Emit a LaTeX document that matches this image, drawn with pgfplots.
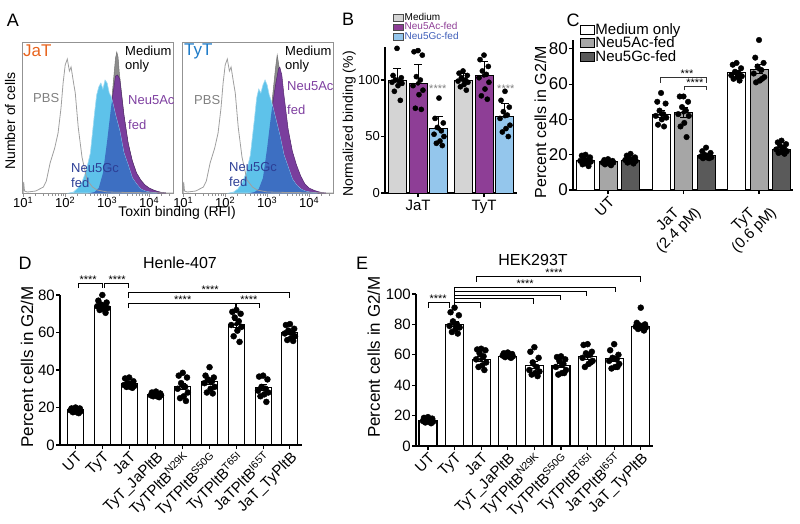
\documentclass[border=0pt]{standalone}
\usepackage{fontspec}
\setmainfont{Liberation Sans}
\usepackage{pgfplots}
\pgfplotsset{compat=1.18}
\newcommand{\fs}[1]{\fontsize{#1}{#1}\selectfont}
\definecolor{hgray}{HTML}{8C8C8C}
\definecolor{hpurple}{HTML}{7A3E9D}
\definecolor{hcyan}{HTML}{5EC2EA}
\definecolor{hblue}{HTML}{3D6FC2}
\definecolor{jaorange}{HTML}{E8641E}
\definecolor{tyblue}{HTML}{1E7BC8}
\definecolor{txtpurple}{HTML}{7E3FA0}
\definecolor{txtblue}{HTML}{2D3F96}
\definecolor{bgray}{HTML}{D4D4D4}
\definecolor{bpurple}{HTML}{8E3E96}
\definecolor{bblue}{HTML}{94C6EC}
\definecolor{cgray}{HTML}{A6A6A6}
\definecolor{cdark}{HTML}{5A5A5A}
\definecolor{legblue}{HTML}{3E5DB8}
\pgfplotsset{
  histA/.style={scale only axis, anchor=south west, width=151pt, height=151pt,
    xmin=0.97, xmax=4.57, ymin=0, ymax=151,
    axis line style={draw=gray!85, line width=0.9pt},
    xtick={1,2,3,4},
    xticklabels={10\textsuperscript{1},10\textsuperscript{2},10\textsuperscript{3},10\textsuperscript{4}},
    minor xtick={1.301,1.477,1.602,1.699,1.778,1.845,1.903,1.954,2.301,2.477,2.602,2.699,2.778,2.845,2.903,2.954,3.301,3.477,3.602,3.699,3.778,3.845,3.903,3.954,4.301,4.477},
    xtick pos=left, tick align=outside, ytick=\empty,
    tick style={draw=gray!85, line width=0.8pt},
    major tick length=3.5pt, minor tick length=2.5pt,
    xticklabel style={font=\fs{13}, inner sep=0.5pt}},
  barpanel/.style={scale only axis, anchor=south west, axis lines*=left,
    axis line style={line width=1.1pt}, tick style={line width=1.1pt, black},
    tick align=outside, major tick length=4pt, ymin=0, clip=false,
    /pgf/number format/assume math mode=true},
  dots/.style={only marks, mark=*, mark size=#1, black},
  ebar/.style={black, only marks, mark=none, error bars/y dir=both, error bars/y explicit,
    error bars/error bar style={line width=1pt, black},
    error bars/error mark options={rotate=90, mark size=#1, line width=1pt, black}},
}
\begin{document}
\begin{tikzpicture}
\path[use as bounding box] (0pt,0pt) rectangle (800pt,-523pt);

% ================= Panel A (JaT) =================
\begin{axis}[histA, at={(22pt,-193pt)}]
\addplot[fill=hgray, draw=black!55, line width=0.5pt] coordinates {(2.7,0)(2.8,4)(2.9,18)(3.0,50)(3.1,88)(3.15,112)(3.2,135)(3.23,141)(3.26,136)(3.29,120)(3.33,105)(3.4,78)(3.5,50)(3.6,32)(3.7,20)(3.8,13)(3.9,8)(4.0,5)(4.1,3)(4.2,1.5)(4.3,0.5)(4.4,0)} \closedcycle;
\addplot[fill=hpurple, draw=hpurple!70!black, line width=0.5pt] coordinates {(2.6,0)(2.7,1)(2.8,5)(2.9,20)(3.0,52)(3.1,88)(3.2,117)(3.25,118)(3.3,114)(3.4,78)(3.5,50)(3.6,32)(3.7,20)(3.8,13)(3.9,8)(4.0,5)(4.1,3)(4.2,1.5)(4.3,0.5)(4.4,0)} \closedcycle;
\addplot[fill=hcyan, draw=hcyan!60!white, line width=0.6pt] coordinates {(2.1,0)(2.2,1)(2.3,5)(2.4,11)(2.5,22)(2.6,40)(2.7,80)(2.75,98)(2.8,106)(2.85,110)(2.9,104)(2.95,113)(3.0,110)(3.05,100)(3.1,96)(3.2,78)(3.3,62)(3.4,40)(3.5,28)(3.6,15)(3.7,9)(3.8,4)(3.9,2)(4.0,1)(4.1,0.5)(4.2,0)} \closedcycle;
\addplot[fill=hblue, draw=none] coordinates {(2.6,0)(2.7,1)(2.8,5)(2.9,20)(3.0,52)(3.1,88)(3.12,92.5)(3.2,78)(3.25,70)(3.3,62)(3.4,40)(3.5,28)(3.6,15)(3.7,9)(3.8,4)(3.9,2)(4.0,1)(4.1,0.5)(4.2,0)} \closedcycle;
\addplot[draw=gray!75, line width=0.8pt] coordinates {(0.97,0)(1.0,0)(1.01,11)(1.03,2)(1.1,1)(1.3,2)(1.48,6)(1.55,12)(1.64,30)(1.75,45)(1.83,60)(1.9,85)(1.95,110)(2.0,128)(2.05,134)(2.1,122)(2.14,126)(2.2,110)(2.24,100)(2.31,66)(2.4,36)(2.52,13)(2.65,6)(2.76,3)(3.0,1)(3.5,0.5)(4.57,0)};
\end{axis}

% ================= Panel A (TyT) =================
\begin{axis}[histA, at={(182pt,-193pt)}]
\addplot[fill=hgray, draw=black!55, line width=0.5pt] coordinates {(2.7,0)(2.8,4)(2.9,16)(3.0,47)(3.1,84)(3.15,105)(3.2,125)(3.24,138)(3.27,130)(3.3,120)(3.35,105)(3.4,90)(3.5,60)(3.6,40)(3.7,26)(3.8,16)(3.9,8)(4.0,4)(4.1,2)(4.2,1)(4.3,0)} \closedcycle;
\addplot[fill=hpurple, draw=hpurple!70!black, line width=0.5pt] coordinates {(2.6,0)(2.7,1)(2.8,4)(2.9,15)(3.0,45)(3.1,80)(3.2,108)(3.27,124)(3.3,126)(3.35,118)(3.4,98)(3.5,64)(3.6,42)(3.7,28)(3.8,17)(3.9,9)(4.0,5)(4.1,3)(4.2,1.5)(4.3,0.5)(4.4,0)} \closedcycle;
\addplot[fill=hcyan, draw=hcyan!60!white, line width=0.6pt] coordinates {(2.1,0)(2.2,1)(2.3,4)(2.4,10)(2.5,20)(2.6,38)(2.7,75)(2.75,95)(2.8,104)(2.85,100)(2.9,108)(2.95,113)(3.0,108)(3.05,98)(3.1,92)(3.2,75)(3.3,58)(3.4,38)(3.5,26)(3.6,14)(3.7,8)(3.8,4)(3.9,2)(4.0,1)(4.1,0.5)(4.2,0)} \closedcycle;
\addplot[fill=hblue, draw=none] coordinates {(2.6,0)(2.7,1)(2.8,4)(2.9,15)(3.0,45)(3.1,80)(3.127,87.5)(3.2,75)(3.3,58)(3.4,38)(3.5,26)(3.6,14)(3.7,8)(3.8,4)(3.9,2)(4.0,1)(4.1,0.5)(4.2,0)} \closedcycle;
\addplot[draw=gray!75, line width=0.8pt] coordinates {(0.97,0)(1.0,0)(1.01,11)(1.03,2)(1.1,1)(1.3,2)(1.48,6)(1.55,12)(1.64,30)(1.75,45)(1.83,60)(1.9,85)(1.95,110)(2.0,128)(2.05,134)(2.1,122)(2.14,126)(2.2,110)(2.24,100)(2.31,66)(2.4,36)(2.52,13)(2.65,6)(2.76,3)(3.0,1)(3.5,0.5)(4.57,0)};
\end{axis}

% Panel A texts
\node[font=\fs{18}] at (13pt,-20pt) {A};
\node[font=\fs{14}, rotate=90] at (10pt,-121pt) {Number of cells};
\node[font=\fs{14}] at (177pt,-213pt) {Toxin binding (RFI)};
\node[font=\fs{17}, text=jaorange, anchor=west, inner sep=0pt] at (23pt,-51pt) {JaT};
\node[font=\fs{13}, anchor=west, inner sep=0pt] at (125pt,-51pt) {Medium};
\node[font=\fs{13}, anchor=west, inner sep=0pt] at (125pt,-66pt) {only};
\node[font=\fs{13}, text=gray, anchor=west, inner sep=0pt] at (33pt,-98pt) {PBS};
\node[font=\fs{13}, text=txtpurple, anchor=west, inner sep=0pt] at (128pt,-100pt) {Neu5Ac};
\node[font=\fs{13}, text=txtpurple, anchor=west, inner sep=0pt] at (128pt,-125pt) {fed};
\node[font=\fs{13}, text=txtblue, anchor=west, inner sep=0pt] at (71pt,-168pt) {Neu5Gc};
\node[font=\fs{13}, text=txtblue, anchor=west, inner sep=0pt] at (71pt,-183pt) {fed};
\node[font=\fs{17}, text=tyblue, anchor=west, inner sep=0pt] at (184pt,-51pt) {TyT};
\node[font=\fs{13}, anchor=west, inner sep=0pt] at (285pt,-51pt) {Medium};
\node[font=\fs{13}, anchor=west, inner sep=0pt] at (285pt,-66pt) {only};
\node[font=\fs{13}, text=gray, anchor=west, inner sep=0pt] at (194pt,-100pt) {PBS};
\node[font=\fs{13}, text=txtpurple, anchor=west, inner sep=0pt] at (287pt,-86pt) {Neu5Ac};
\node[font=\fs{13}, text=txtpurple, anchor=west, inner sep=0pt] at (287pt,-110pt) {fed};
\node[font=\fs{13}, text=txtblue, anchor=west, inner sep=0pt] at (229pt,-167pt) {Neu5Gc};
\node[font=\fs{13}, text=txtblue, anchor=west, inner sep=0pt] at (229pt,-182pt) {fed};

% ================= Panel B =================
\begin{axis}[barpanel, at={(385pt,-193pt)}, width=132pt, height=146pt,
  xmin=0.5, xmax=2.5, ymax=129.2, ytick={0,50,100}, xtick={1,2}, xticklabels={JaT,TyT},
  yticklabel style={font=\fs{13}, inner sep=1pt}, xticklabel style={font=\fs{15}},
  ylabel={Normalized binding (\%)}, ylabel style={font=\fs{14}, at={(axis description cs:-0.27,0.473)}, anchor=center},
  legend image code/.code={\draw[#1] (0pt,-3.3pt) rectangle (10pt,3.3pt);},
  legend style={at={(axis description cs:0.04,1.25)}, anchor=north west, draw=none, fill=none,
    font=\fs{10}, row sep=-0.5pt, nodes={inner sep=0.6pt}, legend cell align=left}]
\addlegendimage{fill=bgray, draw=black!70, line width=0.6pt}
\addlegendentry{Medium}
\addlegendimage{fill=bpurple, draw=black!70, line width=0.6pt}
\addlegendentry{\textcolor{bpurple}{Neu5Ac-fed}}
\addlegendimage{fill=bblue, draw=black!70, line width=0.6pt}
\addlegendentry{\textcolor{legblue}{Neu5Gc-fed}}
\addplot[ybar, bar shift=0pt, bar width=18pt, fill=bgray, draw=black, line width=1pt, forget plot] coordinates {(0.682,100)(1.682,100)};
\addplot[ybar, bar shift=0pt, bar width=18pt, fill=bpurple, draw=black, line width=1pt, forget plot] coordinates {(1,97)(2,104)};
\addplot[ybar, bar shift=0pt, bar width=18pt, fill=bblue, draw=black, line width=1pt, forget plot] coordinates {(1.318,57)(2.318,68)};
\addplot[dots=2.6pt, forget plot] coordinates {(0.682,128)(0.622,104)(0.747,102)(0.657,100)(0.717,99)(0.607,98)(0.757,97)(0.697,95)(0.642,90)(0.732,82)
(1,126)(0.94,125)(1.065,122)(0.975,103)(1.035,100)(0.925,95)(1.075,91)(1.015,87)(0.96,75)(1.05,74)
(1.318,84)(1.258,66)(1.383,62)(1.293,58)(1.353,55)(1.243,52)(1.393,50)(1.333,46)(1.278,44)(1.368,42)
(1.682,108)(1.622,106)(1.747,104)(1.657,102)(1.717,100)(1.607,99)(1.757,98)(1.697,96)(1.642,94)(1.732,91)
(2,122)(1.94,118)(2.065,112)(1.975,108)(2.035,105)(1.925,102)(2.075,98)(2.015,92)(1.96,86)(2.05,83)
(2.318,90)(2.258,82)(2.383,76)(2.293,72)(2.353,69)(2.243,66)(2.393,60)(2.333,57)(2.278,54)(2.368,50)};
\addplot[ebar=4pt, error bars/y dir=plus, forget plot] coordinates {(0.682,100)+-(0,10) (1,97)+-(0,17) (1.318,57)+-(0,11) (1.682,100)+-(0,6) (2,104)+-(0,12) (2.318,68)+-(0,11)};
\node[font=\fs{11}, text=gray] at (axis cs:1.3,92) {****};
\node[font=\fs{11}, text=gray] at (axis cs:2.33,92) {****};
\end{axis}
\node[font=\fs{18}] at (348pt,-19pt) {B};

% ================= Panel C =================
\begin{axis}[barpanel, at={(573pt,-190pt)}, width=220pt, height=150pt,
  xmin=0.536, xmax=3.45, ymax=85, ytick={0,20,40,60,80}, xtick={1,2,3},
  xticklabels={UT,{JaT\\(2.4 pM)},{TyT\\(0.6 pM)}},
  xticklabel style={font=\fs{15}, rotate=45, anchor=north east, align=center, inner sep=1pt},
  yticklabel style={font=\fs{17}, inner sep=1pt},
  ylabel={Percent cells in G2/M}, ylabel style={font=\fs{16}, at={(axis description cs:-0.148,0.453)}, anchor=center},
  legend image code/.code={\draw[#1] (0pt,-4.5pt) rectangle (14pt,4.5pt);},
  legend style={at={(axis description cs:0.018,1.127)}, anchor=north west, draw=none, fill=none,
    font=\fs{15}, row sep=0pt, nodes={inner sep=0.5pt}, legend cell align=left}]
\addlegendimage{fill=white, draw=black, line width=0.8pt}
\addlegendentry{Medium only}
\addlegendimage{fill=cgray, draw=black, line width=0.8pt}
\addlegendentry{Neu5Ac-fed}
\addlegendimage{fill=cdark, draw=black, line width=0.8pt}
\addlegendentry{Neu5Gc-fed}
\addplot[ybar, bar shift=0pt, bar width=18pt, fill=white, draw=black, line width=1pt, forget plot] coordinates {(0.702,17)(1.702,43)(2.702,66.5)};
\addplot[ybar, bar shift=0pt, bar width=18pt, fill=cgray, draw=black, line width=1pt, forget plot] coordinates {(1,16)(2,44)(3,68.5)};
\addplot[ybar, bar shift=0pt, bar width=18pt, fill=cdark, draw=black, line width=1pt, forget plot] coordinates {(1.298,17)(2.298,19.5)(3.298,23)};
\addplot[dots=2.8pt, forget plot] coordinates {(0.702,20)(0.652,19.5)(0.762,18.5)(0.682,17.5)(0.732,17)(0.632,16.5)(0.772,16)(0.712,15)(0.662,14.5)(0.742,13.5)
(1,17.5)(0.95,17)(1.06,16.5)(0.98,16)(1.03,16)(0.93,15.5)(1.07,15.5)(1.01,15)(0.96,14.5)(1.04,14)
(1.298,20.5)(1.248,19.5)(1.358,18.5)(1.278,18)(1.328,17.5)(1.228,17)(1.368,16.5)(1.308,16)(1.258,15.5)(1.338,15)
(1.702,55)(1.652,50)(1.762,49)(1.682,45)(1.732,43)(1.632,42)(1.772,41)(1.712,40)(1.662,37)(1.742,36)
(2,53)(1.95,53)(2.06,50)(1.98,47)(2.03,45)(1.93,43)(2.07,42)(2.01,38)(1.96,36)(2.04,30)
(2.298,24)(2.248,22)(2.358,21)(2.278,20)(2.328,19.5)(2.228,19)(2.368,18.5)(2.308,18.5)(2.258,18)(2.338,18)
(2.702,72)(2.652,71)(2.762,69)(2.682,67)(2.732,66)(2.632,65)(2.772,64.5)(2.712,64)(2.662,63)(2.742,62)
(3,85)(2.95,75)(3.06,72)(2.98,70)(3.03,68)(2.93,66)(3.07,64)(3.01,62)(2.96,61)(3.04,63)
(3.298,28)(3.248,27)(3.358,26)(3.278,25)(3.328,24)(3.228,23)(3.368,22)(3.308,21.5)(3.258,21)(3.338,20.5)};
\addplot[ebar=4pt, forget plot] coordinates {(0.702,17)+-(0,0.8) (1,16)+-(0,0.5) (1.298,17)+-(0,0.7) (1.702,43)+-(0,2) (2,44)+-(0,3) (2.298,19.5)+-(0,0.7) (2.702,66.5)+-(0,1) (3,68.5)+-(0,2.5) (3.298,23)+-(0,1)};
\draw[line width=0.8pt, black!80] (axis cs:1.698,60.8) -- (axis cs:1.698,63.6) -- (axis cs:2.307,63.6) -- (axis cs:2.307,60.8);
\draw[line width=0.8pt, black!80] (axis cs:2.007,56.5) -- (axis cs:2.007,58.7) -- (axis cs:2.307,58.7) -- (axis cs:2.307,56.5);
\node[font=\fs{11}] at (axis cs:2.046,65.8) {***};
\node[font=\fs{11}] at (axis cs:2.15,60.6) {****};
\end{axis}
\node[font=\fs{18}] at (573pt,-20pt) {C};

% ================= Panel D =================
\begin{axis}[barpanel, at={(60pt,-445pt)}, width=242pt, height=150pt,
  xmin=-0.58, xmax=8.45, ymax=80, ytick={0,20,40,60,80}, xtick={0,1,...,8},
  xticklabels={UT,TyT,JaT,TyT\_JaPltB,TyTPltB\textsuperscript{N29K},TyTPltB\textsuperscript{S50G},TyTPltB\textsuperscript{T65I},JaTPltB\textsuperscript{I65T},JaT\_TyPltB},
  xticklabel style={font=\fs{15}, rotate=45, anchor=north east, inner sep=1pt},
  yticklabel style={font=\fs{15}, inner sep=1pt},
  ylabel={Percent cells in G2/M}, ylabel style={font=\fs{17}, at={(axis description cs:-0.136,0.52)}, anchor=center}]
\addplot[ybar, bar shift=0pt, bar width=16pt, fill=white, draw=black, line width=1.1pt] coordinates {(0,18.7)(1,73.8)(2,32.9)(3,26.7)(4,31.1)(5,33.8)(6,64.5)(7,30.8)(8,59.9)};
\addplot[dots=3pt] coordinates {(0,20)(-0.15,19.5)(0.16,19.5)(-0.06,19)(0.09,18.5)(-0.19,18.5)(0.19,18)(0.04,17.5)(-0.1,17.5)(0.12,17)
(1,80)(0.85,77)(1.16,76)(0.94,75)(1.09,74.5)(0.81,74)(1.19,73)(1.04,72.5)(0.9,72)(1.12,70.5)
(2,36)(1.85,35.5)(2.16,34)(1.94,33)(2.09,32.5)(1.81,32)(2.19,31.5)(2.04,31)(1.9,31)(2.12,30.5)
(3,28.5)(2.85,28)(3.16,27.5)(2.94,27)(3.09,27)(2.81,26.5)(3.19,26.5)(3.04,26)(2.9,26)(3.12,25.5)
(4,38.5)(3.85,37)(4.16,36)(3.94,33)(4.09,31)(3.81,30)(4.19,28)(4.04,26)(3.9,25)(4.12,23.5)
(5,41.5)(4.85,37)(5.16,36)(4.94,35)(5.09,34)(4.81,33)(5.19,31)(5.04,30)(4.9,28)(5.12,27.5)
(6,72)(5.85,71)(6.16,70)(5.94,68)(6.09,66)(5.81,64)(6.19,63)(6.04,61)(5.9,58)(6.12,55)
(7,37)(6.85,36.5)(7.16,35)(6.94,31)(7.09,30)(6.81,29)(7.19,28)(7.04,27)(6.9,26)(7.12,23)
(8,64.5)(7.85,64)(8.16,62)(7.94,61)(8.09,60)(7.81,59.5)(8.19,58)(8.04,57)(7.9,56)(8.12,55.5)};
\addplot[ebar=3.5pt] coordinates {(0,18.7)+-(0,0.4) (1,73.8)+-(0,1) (2,32.9)+-(0,0.6) (3,26.7)+-(0,0.3) (4,31.1)+-(0,1.7) (5,33.8)+-(0,1.4) (6,64.5)+-(0,1.7) (7,30.8)+-(0,1.6) (8,59.9)+-(0,1)};
\draw[line width=0.9pt] (axis cs:0.09,83.7) -- (axis cs:0.09,86.4) -- (axis cs:0.99,86.4) -- (axis cs:0.99,83.7);
\draw[line width=0.9pt] (axis cs:1.06,83.7) -- (axis cs:1.06,86.4) -- (axis cs:1.96,86.4) -- (axis cs:1.96,83.7);
\draw[line width=0.9pt] (axis cs:1.96,78.4) -- (axis cs:1.96,81.1) -- (axis cs:8.0,81.1) -- (axis cs:8.0,78.4);
\draw[line width=0.9pt] (axis cs:1.96,73) -- (axis cs:1.96,75.7) -- (axis cs:5.95,75.7) -- (axis cs:5.95,73);
\draw[line width=0.9pt] (axis cs:6.02,73) -- (axis cs:6.02,75.7) -- (axis cs:6.88,75.7) -- (axis cs:6.88,73);
\node[font=\fs{11}] at (axis cs:0.47,88.3) {****};
\node[font=\fs{11}] at (axis cs:1.55,88.3) {****};
\node[font=\fs{11}] at (axis cs:5.02,83) {****};
\node[font=\fs{11}] at (axis cs:4.0,77.6) {****};
\node[font=\fs{11}] at (axis cs:6.47,77.6) {****};
\end{axis}
\node[font=\fs{18}] at (25pt,-263pt) {D};
\node[font=\fs{16}] at (180pt,-263pt) {Henle-407};

% ================= Panel E =================
\begin{axis}[barpanel, at={(416pt,-446pt)}, width=237pt, height=152pt,
  xmin=-0.45, xmax=8.46, ymax=100, ytick={0,20,40,60,80,100}, xtick={0,1,...,8},
  xticklabels={UT,TyT,JaT,TyT\_JaPltB,TyTPltB\textsuperscript{N29K},TyTPltB\textsuperscript{S50G},TyTPltB\textsuperscript{T65I},JaTPltB\textsuperscript{I65T},JaT\_TyPltB},
  xticklabel style={font=\fs{15}, rotate=45, anchor=north east, inner sep=1pt},
  yticklabel style={font=\fs{15}, inner sep=1pt},
  ylabel={Percent cells in G2/M}, ylabel style={font=\fs{17}, at={(axis description cs:-0.178,0.585)}, anchor=center}]
\addplot[ybar, bar shift=0pt, bar width=18pt, fill=white, draw=black, line width=1.1pt] coordinates {(0,16.5)(1,80.2)(2,57.1)(3,59)(4,53)(5,53)(6,59)(7,57.4)(8,78.7)};
\addplot[dots=3pt] coordinates {(0,19)(-0.15,18.5)(0.16,18)(-0.06,17.5)(0.09,17)(-0.19,16.5)(0.19,16)(0.04,16)(-0.1,15.5)(0.12,15)
(1,91)(0.85,88)(1.16,86)(0.94,82)(1.09,80)(0.81,79)(1.19,78)(1.04,77)(0.9,75)(1.12,74)
(2,64)(1.85,63.5)(2.16,63)(1.94,61)(2.09,59)(1.81,57)(2.19,55)(2.04,53)(1.9,52)(2.12,50)
(3,61.5)(2.85,61)(3.16,60.5)(2.94,60)(3.09,60)(2.81,59.5)(3.19,59)(3.04,59)(2.9,58.5)(3.12,58)
(4,65)(3.85,62)(4.16,58)(3.94,55)(4.09,52)(3.81,50)(4.19,49)(4.04,48)(3.9,47)(4.12,46)
(5,59)(4.85,58.5)(5.16,57)(4.94,56)(5.09,54)(4.81,52)(5.19,50)(5.04,48)(4.9,47)(5.12,48)
(6,67)(5.85,66.5)(6.16,62)(5.94,61)(6.09,60)(5.81,58)(6.19,56)(6.04,54)(5.9,52)(6.12,55)
(7,67)(6.85,63)(7.16,60)(6.94,58)(7.09,57)(6.81,56)(7.19,54)(7.04,52)(6.9,51)(7.12,52)
(8,91)(7.85,81)(8.16,80)(7.94,79.5)(8.09,79)(7.81,78.5)(8.19,78)(8.04,77.5)(7.9,77)(8.12,76)};
\addplot[ebar=4pt] coordinates {(0,16.5)+-(0,0.4) (1,80.2)+-(0,1.8) (2,57.1)+-(0,1.8) (3,59)+-(0,0.4) (4,53)+-(0,2.3) (5,53)+-(0,1.5) (6,59)+-(0,1.8) (7,57.4)+-(0,1.8) (8,78.7)+-(0,1.3)};
\draw[line width=0.9pt] (axis cs:0,91) -- (axis cs:0,94.3) -- (axis cs:0.79,94.3) -- (axis cs:0.79,91);
\draw[line width=0.9pt] (axis cs:1,91) -- (axis cs:1,104.4);
\draw[line width=0.9pt] (axis cs:1,94.3) -- (axis cs:1.99,94.3) -- (axis cs:1.99,91);
\draw[line width=0.9pt] (axis cs:1,96.9) -- (axis cs:3.95,96.9) -- (axis cs:3.95,93.6);
\draw[line width=0.9pt] (axis cs:1,99.3) -- (axis cs:4.99,99.3) -- (axis cs:4.99,96);
\draw[line width=0.9pt] (axis cs:1,101.8) -- (axis cs:5.97,101.8) -- (axis cs:5.97,98.5);
\draw[line width=0.9pt] (axis cs:1,104.4) -- (axis cs:7.06,104.4) -- (axis cs:7.06,101.1);
\draw[line width=0.9pt] (axis cs:1.84,108) -- (axis cs:1.84,111.4) -- (axis cs:7.98,111.4) -- (axis cs:7.98,108);
\node[font=\fs{11}] at (axis cs:0.38,96.8) {****};
\node[font=\fs{11}] at (axis cs:3.65,106.8) {****};
\node[font=\fs{11}] at (axis cs:4.74,114) {****};
\end{axis}
\node[font=\fs{18}] at (362pt,-263pt) {E};
\node[font=\fs{16}] at (533pt,-260pt) {HEK293T};
\end{tikzpicture}
\end{document}
